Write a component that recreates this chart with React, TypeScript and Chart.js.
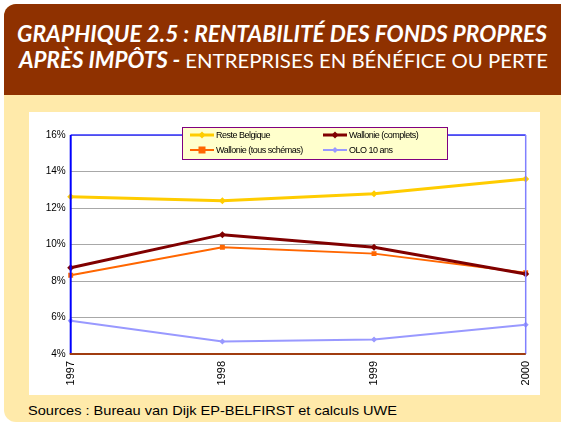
import React, { useEffect, useLayoutEffect, useRef } from "react";
import { Chart, registerables } from "chart.js";

Chart.register(...registerables);

const categories = ["1997", "1998", "1999", "2000"];
const resteBelgique = [12.62, 12.4, 12.78, 13.59];
const wallonieComplets = [8.73, 10.54, 9.85, 8.38];
const wallonieTous = [8.31, 9.85, 9.5, 8.45];
const olo10 = [5.82, 4.69, 4.8, 5.6];
const yMin = 4;
const yMax = 16;
const yStep = 2;

const titleLine1 = "GRAPHIQUE 2.5 : RENTABILITÉ DES FONDS PROPRES";
const titleLine2Bold = "APRÈS IMPÔTS - ";
const titleLine2Regular = "ENTREPRISES EN BÉNÉFICE OU PERTE";
const sourceText = "Sources : Bureau van Dijk EP-BELFIRST et calculs UWE";

const frameAndLegend = {
  id: "frameAndLegend",
  afterDatasetsDraw(chart: any) {
    const { ctx, chartArea } = chart;
    const { left, right, top, bottom } = chartArea;
    ctx.save();
    ctx.lineCap = "butt";
    ctx.strokeStyle = "#3030ff";
    ctx.lineWidth = 1.5;
    ctx.beginPath();
    ctx.moveTo(left, top);
    ctx.lineTo(right, top);
    ctx.stroke();
    ctx.strokeStyle = "#8080ff";
    ctx.beginPath();
    ctx.moveTo(right, top);
    ctx.lineTo(right, bottom);
    ctx.stroke();
    ctx.strokeStyle = "#0000ff";
    ctx.lineWidth = 2;
    ctx.beginPath();
    ctx.moveTo(left, top);
    ctx.lineTo(left, bottom);
    ctx.stroke();
    ctx.strokeStyle = "#a03c10";
    ctx.lineWidth = 2;
    ctx.beginPath();
    ctx.moveTo(left - 1, bottom);
    ctx.lineTo(right, bottom);
    ctx.stroke();
    ctx.restore();
  },
  afterDraw(chart: any) {
    const { ctx } = chart;
    const bx = 153, by = 15, bw = 266, bh = 33;
    ctx.save();
    ctx.fillStyle = "#ffffcc";
    ctx.fillRect(bx, by, bw, bh);
    ctx.strokeStyle = "#800080";
    ctx.lineWidth = 1;
    ctx.strokeRect(bx + 0.5, by + 0.5, bw - 1, bh - 1);
    const cols = [161, 294];
    const rows = [23, 38];
    [0, 1, 2, 3].forEach((i) => {
      const ds = chart.data.datasets[i];
      const cx = cols[i % 2];
      const cy = rows[Math.floor(i / 2)];
      ctx.strokeStyle = ds.borderColor;
      ctx.lineWidth = ds.borderWidth;
      ctx.beginPath();
      ctx.moveTo(cx, cy);
      ctx.lineTo(cx + 24, cy);
      ctx.stroke();
      ctx.fillStyle = ds.pointBackgroundColor;
      const r = ds.pointRadius;
      const mx = cx + 12;
      ctx.beginPath();
      if (ds.pointStyle === "rect") {
        ctx.fillRect(mx - r, cy - r, r * 2, r * 2);
      } else {
        ctx.moveTo(mx, cy - r);
        ctx.lineTo(mx + r, cy);
        ctx.lineTo(mx, cy + r);
        ctx.lineTo(mx - r, cy);
        ctx.closePath();
        ctx.fill();
      }
      ctx.fillStyle = "#000";
      ctx.font = "9px 'Liberation Sans', Arial, sans-serif";
      (ctx as any).letterSpacing = "-0.5px";
      ctx.textBaseline = "middle";
      ctx.textAlign = "left";
      ctx.fillText(ds.label, cx + 26, cy + 0.5);
      (ctx as any).letterSpacing = "0px";
    });
    ctx.restore();
  },
};

export default function App() {
  const canvasRef = useRef<HTMLCanvasElement>(null);
  const l1 = useRef<HTMLSpanElement>(null);
  const l2 = useRef<HTMLSpanElement>(null);
  const src = useRef<HTMLSpanElement>(null);

  useLayoutEffect(() => {
    const fit = (el: HTMLSpanElement | null, target: number) => {
      if (!el) return;
      el.style.transform = "none";
      const w = el.getBoundingClientRect().width;
      if (w > 0) el.style.transform = `scaleX(${target / w})`;
    };
    const run = () => {
      fit(l1.current, 530);
      fit(l2.current, 529);
      fit(src.current, 369);
    };
    run();
    (document as any).fonts?.ready?.then(run);
  }, []);

  useEffect(() => {
    if (!canvasRef.current) return;
    const chart = new Chart(canvasRef.current, {
      type: "line",
      data: {
        labels: categories,
        datasets: [
          {
            label: "Reste Belgique",
            data: resteBelgique,
            borderColor: "#ffcc00",
            backgroundColor: "#ffcc00",
            pointBackgroundColor: "#ffcc00",
            pointBorderColor: "#ffcc00",
            borderWidth: 3,
            pointStyle: "rectRot",
            pointRadius: 3.5,
            pointBorderWidth: 0,
            tension: 0,
          },
          {
            label: "Wallonie (complets)",
            data: wallonieComplets,
            borderColor: "#800000",
            backgroundColor: "#800000",
            pointBackgroundColor: "#800000",
            pointBorderColor: "#800000",
            borderWidth: 3,
            pointStyle: "rectRot",
            pointRadius: 3.5,
            pointBorderWidth: 0,
            tension: 0,
          },
          {
            label: "Wallonie (tous schémas)",
            data: wallonieTous,
            borderColor: "#ff6600",
            backgroundColor: "#ff6600",
            pointBackgroundColor: "#ff6600",
            pointBorderColor: "#ff6600",
            borderWidth: 2,
            pointStyle: "rect",
            pointRadius: 3.5,
            pointBorderWidth: 0,
            tension: 0,
          },
          {
            label: "OLO 10 ans",
            data: olo10,
            borderColor: "#9999ff",
            backgroundColor: "#9999ff",
            pointBackgroundColor: "#9999ff",
            pointBorderColor: "#9999ff",
            borderWidth: 2,
            pointStyle: "rectRot",
            pointRadius: 3,
            pointBorderWidth: 0,
            tension: 0,
          },
        ],
      },
      options: {
        animation: false,
        responsive: false,
        maintainAspectRatio: false,
        layout: { padding: { left: 0, top: 23, right: 14.3, bottom: 0 } },
        plugins: {
          legend: { display: false },
          tooltip: { enabled: false },
          title: { display: false },
        },
        scales: {
          x: {
            type: "category",
            offset: false,
            grid: { display: false, drawTicks: false },
            border: { display: false },
            ticks: {
              minRotation: 90,
              maxRotation: 90,
              padding: 7,
              color: "#000",
              font: { family: "'Liberation Sans', Arial, sans-serif", size: 11 },
            },
            afterFit: (s: any) => {
              s.height = 41;
              s.paddingLeft = 0;
              s.paddingRight = 0;
            },
          },
          y: {
            min: yMin,
            max: yMax,
            grid: { color: "#a8a8a8", lineWidth: 1, drawTicks: false },
            border: { display: false },
            ticks: {
              stepSize: yStep,
              padding: 5,
              color: "#000",
              font: { family: "'Liberation Sans', Arial, sans-serif", size: 10 },
              callback: (v: any) => `${v}%`,
            },
            afterFit: (s: any) => {
              s.width = 41.7;
              s.paddingTop = 0;
              s.paddingBottom = 0;
            },
          },
        },
      },
      plugins: [frameAndLegend],
    });
    return () => chart.destroy();
  }, []);

  return (
    <div
      style={{
        position: "absolute",
        left: 0,
        top: 0,
        width: 561,
        height: 424,
        background: "#ffffff",
        overflow: "hidden",
      }}
    >
      <div
        style={{
          position: "absolute",
          left: 4,
          top: 4,
          width: 580,
          height: 418,
          background: "#ffeaaa",
          borderRadius: 12,
          overflow: "hidden",
        }}
      >
        <div
          style={{
            position: "absolute",
            left: 0,
            top: 0,
            width: "100%",
            height: 91,
            background: "#8f3100",
          }}
        />
      </div>
      <div
        style={{
          position: "absolute",
          left: 17,
          top: 22.5,
          lineHeight: "22px",
          whiteSpace: "nowrap",
          color: "#fff",
        }}
      >
        <span
          ref={l1}
          style={{
            display: "inline-block",
            transformOrigin: "left center",
            fontFamily: "Lato, 'Open Sans', sans-serif",
            fontWeight: 700,
            fontStyle: "italic",
            fontSize: 22,
          }}
        >
          {titleLine1}
        </span>
      </div>
      <div
        style={{
          position: "absolute",
          left: 19,
          top: 48.5,
          lineHeight: "22px",
          whiteSpace: "nowrap",
          color: "#fff",
        }}
      >
        <span
          ref={l2}
          style={{
            display: "inline-block",
            transformOrigin: "left center",
            fontFamily: "Lato, 'Open Sans', sans-serif",
            fontSize: 22,
          }}
        >
          <span style={{ fontWeight: 700, fontStyle: "italic" }}>{titleLine2Bold}</span>
          <span style={{ fontWeight: 400, fontSize: 20 }}>{titleLine2Regular}</span>
        </span>
      </div>
      <div
        style={{
          position: "absolute",
          left: 29,
          top: 112,
          width: 511,
          height: 283,
          background: "#ffffff",
        }}
      >
        <canvas ref={canvasRef} width={511} height={283} style={{ display: "block" }} />
      </div>
      <div
        style={{
          position: "absolute",
          left: 28,
          top: 401,
          lineHeight: "18px",
          whiteSpace: "nowrap",
          color: "#000",
        }}
      >
        <span
          ref={src}
          style={{
            display: "inline-block",
            transformOrigin: "left center",
            fontFamily: "'Liberation Sans', Arial, sans-serif",
            fontSize: 13.5,
          }}
        >
          {sourceText}
        </span>
      </div>
    </div>
  );
}
